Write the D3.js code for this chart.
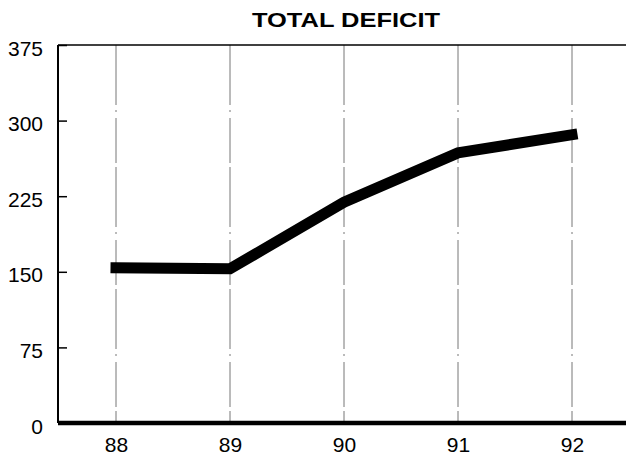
<!DOCTYPE html>
<html><head><meta charset="utf-8">
<script src="https://cdn.jsdelivr.net/npm/d3@7"></script>
<style>body{margin:0;background:#fff}svg{display:block}</style>
</head><body>
<script>
const years = ["88","89","90","91","92"];
const deficit = [154, 153, 219, 268, 286];
const yTicks = [0, 75, 150, 225, 300, 375];
const title = "TOTAL DEFICIT";

const W = 626, H = 458;
const svg = d3.select("body").append("svg").attr("width", W).attr("height", H);
const font = "'Liberation Sans', Arial, Helvetica, sans-serif";

const x = d3.scalePoint().domain(years).range([116, 572]);
const y = d3.scaleLinear().domain([0, 375]).range([423, 45]);

// grid lines
svg.append("g").selectAll("line").data(years).join("line")
  .attr("x1", d => x(d)).attr("x2", d => x(d))
  .attr("y1", y(375)).attr("y2", y(0))
  .attr("stroke", "#777").attr("stroke-width", 1)
  .attr("stroke-dasharray", "60,5,2,6,45,4");

// top frame line
svg.append("line").attr("x1", 58).attr("x2", W).attr("y1", y(375)).attr("y2", y(375))
  .attr("stroke", "#000").attr("stroke-width", 1.5);

// y axis
const yAxis = svg.append("g").attr("transform", "translate(58,0)")
  .call(d3.axisRight(y).tickValues(yTicks).tickSize(9).tickFormat(""));
yAxis.select(".domain").attr("stroke-width", 2).attr("d", `M0,${y(375)}V${y(0)}`);
yAxis.selectAll(".tick line").attr("stroke-width", 1.5);
svg.append("g").selectAll("text").data(yTicks).join("text")
  .attr("x", 43).attr("y", d => y(d) + 3).attr("dy", "0.36em")
  .attr("text-anchor", "end").attr("font-family", font).attr("font-size", 21)
  .text(d => d);

// x axis
svg.append("line").attr("x1", 58).attr("x2", W).attr("y1", y(0)).attr("y2", y(0))
  .attr("stroke", "#000").attr("stroke-width", 4.5);
const xAxis = svg.append("g").attr("transform", `translate(0,${y(0)})`)
  .call(d3.axisBottom(x).tickSize(0).tickPadding(14));
xAxis.select(".domain").remove();
xAxis.selectAll("text").attr("font-family", font).attr("font-size", 21).attr("fill", "#000")
  .attr("y", 29).attr("dy", null);

// data line
const line = d3.line().x((d, i) => x(years[i])).y(d => y(d));
svg.append("path").datum(deficit).attr("d", line)
  .attr("fill", "none").attr("stroke", "#000").attr("stroke-width", 11)
  .attr("stroke-linecap", "square").attr("stroke-linejoin", "miter");

// title
svg.append("text").attr("x", 252).attr("y", 27)
  .attr("font-family", font).attr("font-weight", "bold").attr("font-size", 20)
  .attr("textLength", 188).attr("lengthAdjust", "spacingAndGlyphs")
  .text(title);
</script>
</body></html>
